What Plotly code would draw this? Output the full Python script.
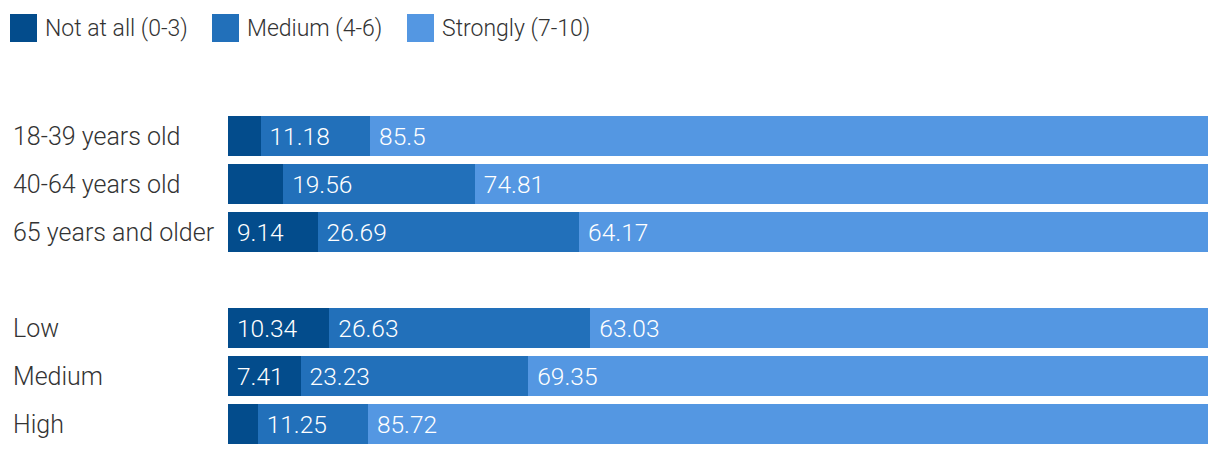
import plotly.graph_objects as go

categories = ["18-39 years old", "40-64 years old", "65 years and older", " ", "Low", "Medium", "High"]
not_at_all = [3.32, 5.63, 9.14, None, 10.34, 7.41, 3.03]
medium = [11.18, 19.56, 26.69, None, 26.63, 23.23, 11.25]
strongly = [85.5, 74.81, 64.17, None, 63.03, 69.35, 85.72]
series_names = ["Not at all (0-3)", "Medium (4-6)", "Strongly (7-10)"]
colors = ["#034C8C", "#2270BA", "#5497E2"]

FONT = "Roboto"
OFF = 8  # default page body margin
W, H = 1204, 440
ML, MR, MT, MB = 220, 4, 104, 0
PW = W - ML - MR
PH = H - MT - MB


def px_x(p):
    # p is a screen pixel x; convert to paper coords
    return (p - OFF - ML) / PW


def px_y(p):
    return (H - MB - (p - OFF)) / PH


def labels(vals):
    return ["\u00a0" + str(v) if (v is not None and v > 6) else "" for v in vals]


fig = go.Figure()
for name, vals, col in zip(series_names, [not_at_all, medium, strongly], colors):
    fig.add_trace(go.Bar(
        y=categories, x=vals, name=name, orientation="h",
        marker=dict(color=col, line=dict(width=0)),
        text=labels(vals), textposition="inside", insidetextanchor="start",
        textfont=dict(family=FONT, size=24.5, color="white", weight=300),
        hoverinfo="skip", showlegend=False,
    ))

shapes = []
annotations = []
legend_x = [10, 212, 407]
for name, col, lx in zip(series_names, colors, legend_x):
    shapes.append(dict(type="rect", xref="paper", yref="paper",
                       x0=px_x(lx), x1=px_x(lx + 27), y0=px_y(42), y1=px_y(14),
                       fillcolor=col, line=dict(width=0)))
    annotations.append(dict(xref="paper", yref="paper", x=px_x(lx + 33), y=px_y(28),
                            xanchor="left", yanchor="middle", text=name, showarrow=False,
                            font=dict(family=FONT, size=23, color="#333333", weight=300)))

for c in categories:
    if c.strip():
        annotations.append(dict(xref="paper", yref="y", x=px_x(11), y=c,
                                xanchor="left", yanchor="middle", text=c, showarrow=False,
                                font=dict(family=FONT, size=25, color="#333333", weight=300)))

fig.update_layout(
    width=W, height=H, autosize=False,
    barmode="stack", bargap=1/6,
    margin=dict(l=ML, r=MR, t=MT, b=MB, pad=0),
    paper_bgcolor="white", plot_bgcolor="white",
    xaxis=dict(range=[0, 100], visible=False, fixedrange=True),
    yaxis=dict(categoryorder="array", categoryarray=categories, autorange="reversed",
               showticklabels=False, showgrid=False, zeroline=False, showline=False,
               ticks="", fixedrange=True),
    shapes=shapes, annotations=annotations,
    uniformtext=dict(minsize=24, mode="show"),
    font=dict(family=FONT),
)

fig.write_html("out.html", config={"displayModeBar": False})
